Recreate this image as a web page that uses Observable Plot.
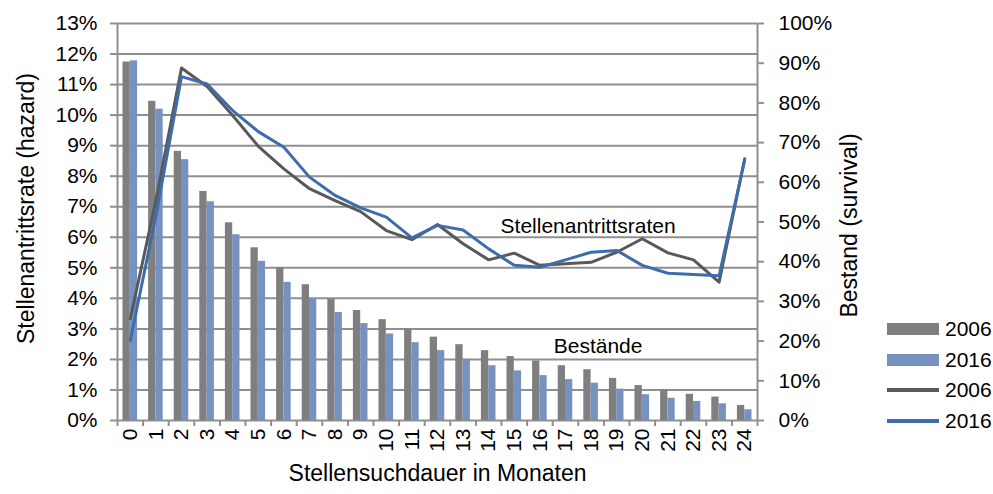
<!DOCTYPE html>
<html><head><meta charset="utf-8">
<script src="https://cdn.jsdelivr.net/npm/d3@7"></script>
<script src="https://cdn.jsdelivr.net/npm/@observablehq/plot@0.6"></script>
<style>
body{margin:0;background:#fff;}
#wrap{position:relative;width:993px;height:494px;font-family:"Liberation Sans",Arial,sans-serif;}
#legend{position:absolute;left:887px;top:0;font-size:21px;color:#000;}
.row{position:absolute;left:0;height:30px;display:flex;align-items:center;white-space:nowrap;transform:translateY(-50%);}
.sw{width:52px;margin-right:6px;}
</style></head><body><div id="wrap"></div>
<script>
const months = [0,1,2,3,4,5,6,7,8,9,10,11,12,13,14,15,16,17,18,19,20,21,22,23,24];
const survival2006 = [0.903,0.804,0.678,0.577,0.498,0.435,0.384,0.342,0.305,0.277,0.254,0.230,0.210,0.191,0.176,0.161,0.150,0.138,0.128,0.106,0.088,0.077,0.066,0.059,0.038];
const survival2016 = [0.906,0.784,0.657,0.551,0.468,0.401,0.348,0.307,0.272,0.244,0.218,0.196,0.176,0.154,0.138,0.125,0.113,0.103,0.094,0.079,0.065,0.056,0.048,0.042,0.027];
const hazard2006 = [0.0333,0.072,0.1154,0.1094,0.0999,0.0898,0.0824,0.0759,0.0720,0.0684,0.0622,0.0592,0.0642,0.0579,0.0526,0.0548,0.0508,0.0513,0.0518,0.0551,0.0595,0.0549,0.0526,0.0453,0.0857];
const hazard2016 = [0.0262,0.067,0.1126,0.1102,0.1015,0.0946,0.0895,0.0797,0.0737,0.0696,0.0666,0.0598,0.0639,0.0624,0.0562,0.0508,0.0502,0.0526,0.0551,0.0557,0.0508,0.0482,0.0478,0.0474,0.0854];
const hazardTicks = [0,0.01,0.02,0.03,0.04,0.05,0.06,0.07,0.08,0.09,0.10,0.11,0.12,0.13];
const survivalTicks = [0,0.1,0.2,0.3,0.4,0.5,0.6,0.7,0.8,0.9,1.0];
const years = ["2006","2016"];
const barColors = ["#7f7f7f","#7892bf"];
const lineColors = ["#595959","#3d6dab"];
const xTitle = "Stellensuchdauer in Monaten";
const yLeftTitle = "Stellenantrittsrate (hazard)";
const yRightTitle = "Bestand (survival)";
const lineLabel = "Stellenantrittsraten";
const barLabel = "Bestände";

// map survival (right axis, 0–100%) onto the hazard scale (left axis, 0–13%)
const k = 0.13 / 1.0;
const barW = 0.285;
const bars = months.flatMap((m, i) => [
  {m, year: "2006", v: survival2006[i]},
  {m, year: "2016", v: survival2016[i]}
]);
const lines = [hazard2006, hazard2016].map(h => months.map((m, i) => ({m, v: h[i]})));
const bounds = [-0.5, ...months.map(m => m + 0.5)];
const grid = "#8f8f8f";

const chart = Plot.plot({
  width: 993, height: 494,
  marginTop: 23, marginRight: 236, marginBottom: 74, marginLeft: 117,
  style: {fontFamily: '"Liberation Sans", Arial, sans-serif', fontSize: "21px", background: "#fff", overflow: "visible"},
  x: {type: "linear", domain: [-0.5, 24.5]},
  y: {domain: [0, 0.13]},
  marks: [
    Plot.ruleY(hazardTicks, {stroke: grid, strokeWidth: 2}),
    Plot.ruleX([bounds[0], bounds[bounds.length - 1]], {stroke: grid, strokeWidth: 2}),
    Plot.rectY(bars, {
      x1: d => d.year === "2006" ? d.m - barW : d.m,
      x2: d => d.year === "2006" ? d.m : d.m + barW,
      y: d => d.v * k,
      fill: d => barColors[years.indexOf(d.year)]
    }),
    Plot.line(lines[0], {x: "m", y: "v", stroke: lineColors[0], strokeWidth: 3}),
    Plot.line(lines[1], {x: "m", y: "v", stroke: lineColors[1], strokeWidth: 3}),
    Plot.axisY({ticks: hazardTicks, tickFormat: d => Math.round(d * 100) + "%", tickSize: 7, tickPadding: 13, stroke: grid, strokeWidth: 2, fill: "#000", label: null}),
    Plot.axisY({anchor: "right", ticks: survivalTicks.map(v => v * k), tickFormat: d => Math.round(d / k * 100) + "%", tickSize: 6, tickPadding: 15, stroke: grid, strokeWidth: 2, fill: "#000", label: null}),
    Plot.axisX({ticks: bounds, tickSize: 6, tickFormat: () => "", stroke: grid, strokeWidth: 2, label: null}),
    Plot.axisX({ticks: months, tickSize: 0, tickPadding: 8, tickRotate: -90, tickFormat: d => String(d), fill: "#000", label: null}),
    Plot.text([xTitle], {frameAnchor: "bottom", dy: 60.6, fontSize: 23, fill: "#000"}),
    Plot.text([yLeftTitle], {frameAnchor: "left", textAnchor: "middle", dx: -91, dy: -13.5, rotate: -90, fontSize: 23, fill: "#000"}),
    Plot.text([yRightTitle], {frameAnchor: "right", textAnchor: "middle", dx: 92, dy: 3.5, rotate: -90, fontSize: 23, fill: "#000"}),
    Plot.text([lineLabel], {x: () => months[18], y: () => hazard2016[18], dx: -3, dy: -26, fontSize: 21, fill: "#000"}),
    Plot.text([barLabel], {x: () => months[18], y: () => survival2006[18] * k, dx: 7, dy: -23, fontSize: 21, fill: "#000"})
  ]
});

const wrap = document.getElementById("wrap");
wrap.appendChild(chart);

// legend
const legend = document.createElement("div");
legend.id = "legend";
const legendItems = [
  {label: years[0], color: barColors[0], h: 12},
  {label: years[1], color: barColors[1], h: 12},
  {label: years[0], color: lineColors[0], h: 3.5},
  {label: years[1], color: lineColors[1], h: 3.5}
];
const rowY = [329, 360, 390, 421];
legendItems.forEach((it, i) => {
  const row = document.createElement("div");
  row.className = "row";
  row.style.top = rowY[i] + "px";
  const sw = document.createElement("span");
  sw.className = "sw";
  sw.style.height = it.h + "px";
  sw.style.background = it.color;
  const t = document.createElement("span");
  t.textContent = it.label;
  row.appendChild(sw);
  row.appendChild(t);
  legend.appendChild(row);
});
wrap.appendChild(legend);
</script>
</body></html>
